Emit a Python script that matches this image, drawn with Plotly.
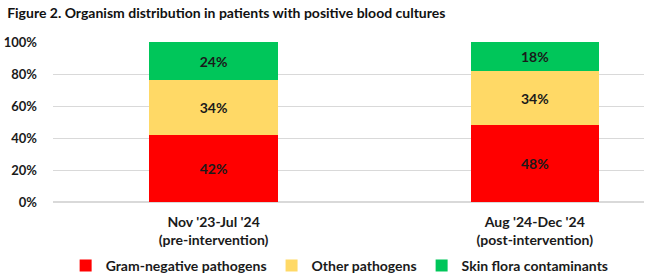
import plotly.graph_objects as go

categories = ["Nov '23-Jul '24<br>(pre-intervention)", "Aug '24-Dec '24<br>(post-intervention)"]
gram_negative = [42, 48]
other_pathogens = [34, 34]
skin_flora = [24, 18]
series_names = ["Gram-negative pathogens", "Other pathogens", "Skin flora contaminants"]
colors = ["#FF0000", "#FFD966", "#00C65A"]
tick_vals = [0, 20, 40, 60, 80, 100]
tick_text = ["0%", "20%", "40%", "60%", "80%", "100%"]

FONT = "Lato"
fig = go.Figure()
for name, vals, col in zip(series_names, [gram_negative, other_pathogens, skin_flora], colors):
    fig.add_trace(go.Bar(
        x=categories, y=vals, name=name, marker=dict(color=col, line=dict(width=0)),
        text=[f"{v}%" for v in vals], textposition="inside", insidetextanchor="middle",
        textfont=dict(family=FONT, size=14, color="#1a1a1a", weight="bold"),
        width=0.4, hoverinfo="skip",
    ))

fig.update_layout(
    barmode="stack",
    width=650, height=279,
    margin=dict(l=53, r=6, t=42, b=77),
    paper_bgcolor="white", plot_bgcolor="white",
    font=dict(family=FONT, size=13, color="#1a1a1a", weight="bold"),
    title=dict(text="Figure 2. Organism distribution in patients with positive blood cultures",
               x=0.011, xanchor="left", y=0.952, yanchor="middle",
               font=dict(family=FONT, size=14, color="#111111", weight="bold")),
    xaxis=dict(range=[-0.5, 1.34], showgrid=False, showline=False, ticks="",
               ticklabelstandoff=10, automargin=False,
               tickfont=dict(family=FONT, size=14, weight="bold")),
    yaxis=dict(range=[0, 100], tickvals=tick_vals, ticktext=tick_text, showgrid=True,
               gridcolor="#D9D9D9", gridwidth=1, zeroline=True, zerolinecolor="#D9D9D9",
               showline=False, ticks="", ticklen=0, automargin=False,
               ticklabelstandoff=15,
               tickfont=dict(family=FONT, size=13, weight="bold")),
    legend=dict(orientation="h", x=0.485, xanchor="center", yref="container",
                y=0.047, yanchor="middle",
                font=dict(family=FONT, size=14, weight="bold"), itemwidth=30,
                traceorder="normal"),
    showlegend=True,
    uniformtext=dict(mode="show", minsize=10),
)
fig.write_html("out.html")
